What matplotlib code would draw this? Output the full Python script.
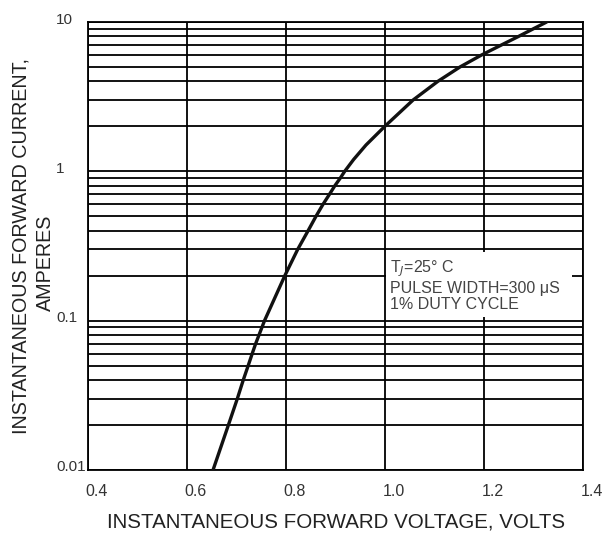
import numpy as np
import matplotlib
matplotlib.use('Agg')
import matplotlib.pyplot as plt
import matplotlib.transforms as mtransforms
from matplotlib.patches import Rectangle
from matplotlib.ticker import LogLocator, NullFormatter

plt.rcParams['font.family'] = ['Liberation Sans', 'DejaVu Sans']

# values
voltage = [0.653, 0.684, 0.702, 0.714, 0.724, 0.732, 0.739, 0.757, 0.798,
           0.824, 0.845, 0.861, 0.875, 0.888, 0.899, 0.910, 0.919, 0.937,
           0.962, 1.0, 1.057, 1.107, 1.152, 1.195, 1.235, 1.270, 1.300, 1.327]
current = [0.01, 0.02, 0.03, 0.04, 0.05, 0.06, 0.07, 0.1, 0.2,
           0.3, 0.4, 0.5, 0.6, 0.7, 0.8, 0.9, 1.0, 1.2,
           1.5, 2.0, 3.0, 4.0, 5.0, 6.0, 7.0, 8.0, 9.0, 10.0]

x_ticks = [0.4, 0.6, 0.8, 1.0, 1.2, 1.4]
x_labels = ['0.4', '0.6', '0.8', '1.0', '1.2', '1.4']
y_ticks = [0.01, 0.1, 1, 10]
y_labels = ['0.01', '0.1', '1', '10']

fig = plt.figure(figsize=(6.02, 5.37), dpi=100)
ax = fig.add_axes([0.146, 0.125, 0.822, 0.834])

ax.set_yscale('log')
ax.set_xlim(0.4, 1.4)
ax.set_ylim(0.01, 10)

# grid (black, like the datasheet paper)
ax.yaxis.set_minor_locator(LogLocator(base=10, subs=np.arange(2, 10)))
ax.yaxis.set_minor_formatter(NullFormatter())
ax.set_yticks(y_ticks)
ax.set_yticklabels(y_labels)
ax.set_xticks(x_ticks)
ax.set_xticklabels(x_labels)
ax.grid(True, which='both', axis='y', color='black', linewidth=1.3)
ax.grid(True, which='major', axis='x', color='black', linewidth=1.3)
ax.tick_params(which='both', length=0, colors='#333333')
ax.tick_params(axis='x', labelsize=11.5, pad=10)
ax.tick_params(axis='y', labelsize=11, pad=23)
for sp in ax.spines.values():
    sp.set_color('black')
    sp.set_linewidth(1.3)

# labels sit a little off their grid lines in the original
dx = mtransforms.ScaledTranslation(9 / 100, 0, fig.dpi_scale_trans)
for lab in ax.get_xticklabels():
    lab.set_transform(lab.get_transform() + dx)
dy = mtransforms.ScaledTranslation(0, 4 / 100, fig.dpi_scale_trans)
for lab in ax.get_yticklabels():
    lab.set_horizontalalignment('left')
    lab.set_transform(lab.get_transform() + dy)

ax.plot(voltage, current, color='#111111', linewidth=2.4,
        solid_capstyle='round', solid_joinstyle='round', zorder=3)

# white patch behind the test-condition note
ax.add_patch(Rectangle((1.003, 0.106), 0.376, 0.18, facecolor='white',
                       edgecolor='none', zorder=2))
ax.text(1.01, 0.26, 'T$_J$=25° C\nPULSE WIDTH=300 μS\n1% DUTY CYCLE',
        fontsize=11.5, color='#444444', va='top', ha='left', linespacing=1.12,
        zorder=4)

fig.text(336 / 602, 1 - 522 / 537, 'INSTANTANEOUS FORWARD VOLTAGE, VOLTS',
         fontsize=14.8, color='#222222', ha='center', va='center')
fig.text(21 / 602, 1 - 246 / 537, 'INSTANTANEOUS FORWARD CURRENT,',
         fontsize=14.2, color='#222222', ha='center', va='center', rotation=90)
fig.text(45 / 602, 1 - 263 / 537, 'AMPERES',
         fontsize=14.2, color='#222222', ha='center', va='center', rotation=90)

fig.savefig('out.png', dpi=100)
